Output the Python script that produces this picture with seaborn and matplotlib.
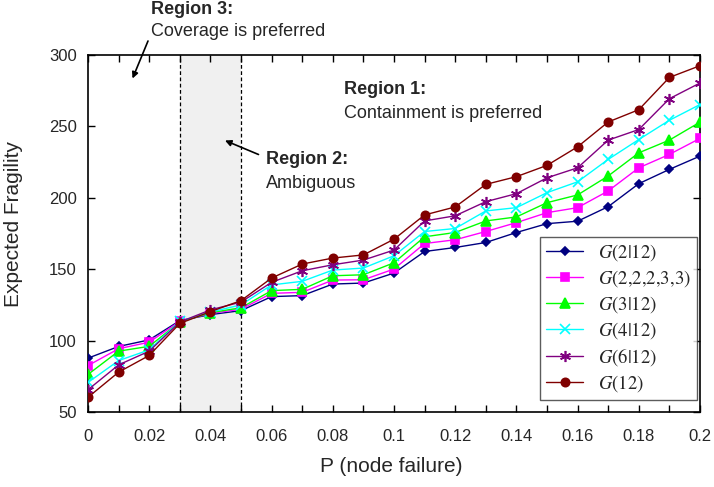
import numpy as np
import pandas as pd
import matplotlib
matplotlib.use("Agg")
import matplotlib.pyplot as plt
import seaborn as sns

p_fail = [0.00, 0.01, 0.02, 0.03, 0.04, 0.05, 0.06, 0.07, 0.08, 0.09, 0.10,
          0.11, 0.12, 0.13, 0.14, 0.15, 0.16, 0.17, 0.18, 0.19, 0.20]

g_2_12 = [87.7, 95.9, 100.5, 114.0, 118.2, 121.0, 130.8, 131.5, 139.6, 140.3, 147.3,
          162.4, 165.2, 168.7, 175.7, 181.9, 183.6, 193.8, 209.9, 219.9, 229.2]
g_22233 = [82.5, 94.3, 98.9, 113.5, 119.0, 122.0, 133.1, 133.8, 142.4, 142.6, 150.1,
           168.0, 170.6, 176.4, 182.6, 189.6, 193.1, 204.8, 221.0, 230.4, 241.6]
g_3_12 = [76.3, 92.6, 96.0, 113.0, 119.5, 123.0, 135.0, 135.9, 145.4, 146.1, 154.5,
          172.7, 175.7, 183.8, 186.6, 196.6, 202.0, 215.3, 231.5, 240.4, 253.0]
g_4_12 = [70.7, 86.0, 93.5, 113.5, 120.0, 125.0, 139.0, 141.5, 149.4, 150.8, 159.4,
          176.4, 178.5, 190.8, 193.1, 203.6, 211.2, 226.9, 240.8, 254.3, 265.3]
g_6_12 = [65.6, 83.0, 92.6, 113.0, 121.5, 127.0, 140.8, 148.9, 153.1, 156.4, 163.4,
          183.8, 187.4, 197.3, 202.9, 214.0, 221.0, 240.4, 247.8, 269.4, 280.4]
g_12 = [60.3, 77.9, 89.6, 112.0, 120.3, 128.0, 143.8, 153.6, 157.8, 160.0, 171.0,
        188.0, 193.6, 209.4, 214.8, 222.7, 235.7, 253.1, 261.7, 284.3, 292.5]

series_names = [r"$G(2|12)$", r"$G(2{,}2{,}2{,}3{,}3)$", r"$G(3|12)$",
                r"$G(4|12)$", r"$G(6|12)$", r"$G(12)$"]
series_values = [g_2_12, g_22233, g_3_12, g_4_12, g_6_12, g_12]
colors = ["#000080", "#ff00ff", "#00ff00", "#00ffff", "#800080", "#800000"]
markers = ["D", "s", "^", "x", (6, 2, 0), "o"]
msizes = [4.5, 5.5, 6.5, 6.5, 8, 6]

x_ticklabels = ["0", "0.02", "0.04", "0.06", "0.08", "0.1", "0.12", "0.14",
                "0.16", "0.18", "0.2"]
y_ticks = [50, 100, 150, 200, 250, 300]

sns.set_style("ticks")
plt.rcParams["font.family"] = ["Liberation Sans", "DejaVu Sans"]
plt.rcParams["mathtext.fontset"] = "stix"

fig = plt.figure(figsize=(7.14, 4.87), dpi=100)
ax = fig.add_axes([88 / 714, 1 - 412 / 487, 612 / 714, 357 / 487])

# ambiguous region
ax.axvspan(0.03, 0.05, color="#f0f0f0", zorder=0, lw=0)
for xv in (0.03, 0.05):
    ax.axvline(xv, color="black", ls=(0, (3, 2)), lw=0.9, zorder=1)

frames = []
for name, vals in zip(series_names, series_values):
    frames.append(pd.DataFrame({"p": p_fail, "val": vals, "series": name}))
df = pd.concat(frames, ignore_index=True)

for name, col, mk, ms in zip(series_names, colors, markers, msizes):
    sub = df[df["series"] == name]
    sns.lineplot(data=sub, x="p", y="val", ax=ax, color=col, marker=mk,
                 markersize=ms, markeredgecolor=col, markeredgewidth=1.2,
                 lw=1.0, label=name, zorder=3)

ax.set_xlim(0, 0.2)
ax.set_ylim(50, 300)
ax.set_xticks(np.arange(0, 0.2001, 0.01))
labels = []
k = 0
for i in range(21):
    if i % 2 == 0:
        labels.append(x_ticklabels[k]); k += 1
    else:
        labels.append("")
ax.set_xticklabels(labels)
ax.set_yticks(y_ticks)
ax.tick_params(direction="in", top=True, right=True, length=5, width=1,
               labelsize=12, color="black")
ax.tick_params(axis="x", pad=12)
ax.tick_params(axis="y", pad=8)
for s in ax.spines.values():
    s.set_color("black")
    s.set_linewidth(1.2)

ax.set_xlabel("P (node failure)", fontsize=15)
ax.set_ylabel("Expected Fragility", fontsize=15)
ax.xaxis.set_label_coords((391 - 88) / 612, -(467 - 412) / 357)
ax.yaxis.set_label_coords((14 - 88) / 612, (412 - 224) / 357)
ax.xaxis.label.set_va("center")
ax.yaxis.label.set_va("center")

leg = ax.legend(loc="lower right", bbox_to_anchor=(0.995, 0.034), fontsize=13.5,
                frameon=True, fancybox=False, edgecolor="#333333",
                handlelength=2.0, labelspacing=0.27, borderpad=0.3,
                handletextpad=0.8, borderaxespad=0)
leg.get_frame().set_linewidth(1.0)

def fx(px):
    return px / 714
def fy(py):
    return 1 - py / 487

fs = 13
fig.text(fx(151), fy(10), "Region 3:", fontsize=fs, fontweight="bold", va="center")
fig.text(fx(151), fy(32), "Coverage is preferred", fontsize=fs, va="center")
fig.text(fx(344), fy(89), "Region 1:", fontsize=fs, fontweight="bold", va="center")
fig.text(fx(344), fy(113), "Containment is preferred", fontsize=fs, va="center")
fig.text(fx(266), fy(160), "Region 2:", fontsize=fs, fontweight="bold", va="center")
fig.text(fx(266), fy(183), "Ambiguous", fontsize=fs, va="center")

ax.annotate("", xy=(fx(132.5), fy(78.5)), xycoords="figure fraction",
            xytext=(fx(148), fy(41)), textcoords="figure fraction",
            arrowprops=dict(arrowstyle="-|>", color="black", lw=1.2,
                            mutation_scale=9, shrinkA=0, shrinkB=0))
ax.annotate("", xy=(fx(225), fy(140.5)), xycoords="figure fraction",
            xytext=(fx(258.5), fy(154.5)), textcoords="figure fraction",
            arrowprops=dict(arrowstyle="-|>", color="black", lw=1.2,
                            mutation_scale=9, shrinkA=0, shrinkB=0))

fig.savefig("out.png", dpi=100)
